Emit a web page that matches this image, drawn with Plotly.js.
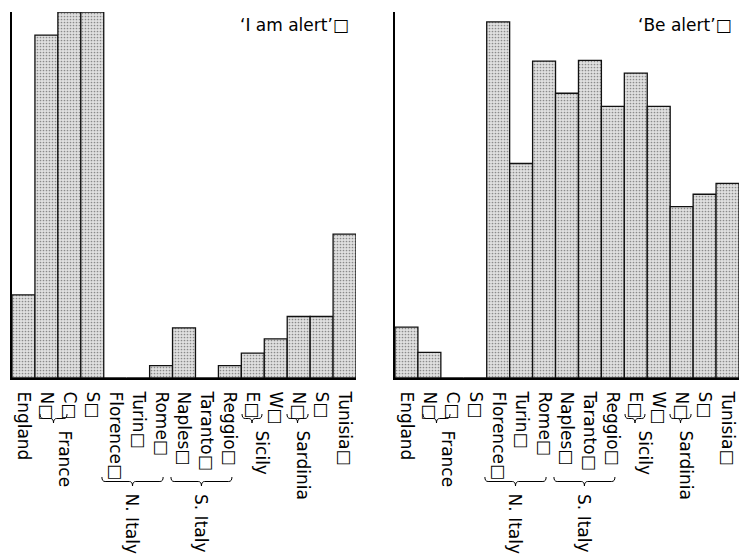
<!DOCTYPE html>
<html><head><meta charset="utf-8">
<script src="https://cdn.plot.ly/plotly-3.0.1.min.js"></script>
<style>html,body{margin:0;padding:0;background:#fff}</style>
</head><body><div id="chart" style="width:742px;height:560px"></div>
<script>
// ---- data ----
const categories = ['England', 'N\u25A1', 'C\u25A1', 'S\u25A1', 'Florence\u25A1', 'Turin\u25A1', 'Rome\u25A1',
  'Naples\u25A1', 'Taranto\u25A1', 'Reggio\u25A1', 'E\u25A1', 'W\u25A1', 'N\u25A1', 'S\u25A1', 'Tunisia\u25A1'];
const iAmAlert = [22.7, 93.7, 100, 100, 0, 0, 3.4, 13.7, 0, 3.4, 6.8, 10.7, 16.8, 16.8, 39.3];
const beAlert  = [13.9, 7.0, 0, 0, 97.3, 58.6, 86.6, 77.8, 86.8, 74.2, 83.3, 74.2, 46.8, 50.2, 53.2];
const panelTitles = ['\u2018I am alert\u2019\u25A1', '\u2018Be alert\u2019\u25A1'];
const groupNames = ['France', 'N. Italy', 'S. Italy', 'Sicily', 'Sardinia'];
const groupFirst = [1, 4, 7, 10, 12];
const groupLast  = [3, 6, 9, 11, 13];

// ---- styling / geometry of the group braces (category-index offsets) ----
const braceStartOff = [-0.28, -0.58, -0.57, -0.47, -0.51];
const braceEndOff   = [-1.1, 0.09, 0.09, -0.6, -0.59];
const textOff       = [-1.15, -1.25, -1.26, -0.58, -0.77];
const braceLevel    = [0, 1, 1, 0, 0];

const idx = categories.map((_, i) => i);
const PLOT_TOP = 12, PLOT_BOTTOM = 378;
const pxToPaper = Y => (PLOT_BOTTOM - Y) / (PLOT_BOTTOM - PLOT_TOP);
const levelY = [
  {top: 414, mid: 418.5, tip: 423, text: 429},
  {top: 477, mid: 481.5, tip: 486, text: 492}
];

const font = 'DejaVu Sans, Liberation Sans, Arial, sans-serif';
const barStyle = {
  color: '#d6d6d6', line: {color: '#111', width: 1.3},
  pattern: {shape: '.', bgcolor: '#e0e0e0', fgcolor: '#8a8a8a', size: 3, solidity: 0.25}
};

const traces = [
  {type: 'bar', x: idx, y: iAmAlert, width: 1, marker: barStyle, xaxis: 'x', yaxis: 'y', hoverinfo: 'x+y'},
  {type: 'bar', x: idx, y: beAlert, width: 1, marker: barStyle, xaxis: 'x2', yaxis: 'y2', hoverinfo: 'x+y'}
];

function xAxis(domain, anchor) {
  return {
    domain: domain, anchor: anchor, range: [-0.5, categories.length - 0.5],
    tickmode: 'array', tickvals: idx, ticktext: categories, tickangle: 90,
    ticks: '', showline: true, linecolor: '#000', linewidth: 2, mirror: false,
    showgrid: false, zeroline: false, fixedrange: true, ticklabelstandoff: 8,
    tickfont: {family: font, size: 17, color: '#000'}
  };
}
function yAxis(anchor) {
  return {
    anchor: anchor, range: [0, 100], showline: true, linecolor: '#000', linewidth: 2,
    showticklabels: false, ticks: '', showgrid: false, zeroline: false, fixedrange: true
  };
}

const shapes = [], annotations = [];
['x', 'x2'].forEach((xr, p) => {
  const yr = p === 0 ? 'y' : 'y2';
  annotations.push({
    text: panelTitles[p], xref: xr + ' domain', yref: yr + ' domain', x: 1, y: 1,
    xanchor: 'right', yanchor: 'top', xshift: -5, yshift: -1, showarrow: false,
    font: {family: font, size: 17, color: '#000'}
  });
  groupNames.forEach((g, k) => {
    const lv = levelY[braceLevel[k]];
    const xa = groupFirst[k] + braceStartOff[k];
    const xb = groupLast[k] + braceEndOff[k];
    const xm = (xa + xb) / 2, c = 0.14;
    const y0 = pxToPaper(lv.top), y1 = pxToPaper(lv.mid), y2 = pxToPaper(lv.tip);
    const path = `M ${xa},${y0} Q ${xa},${y1} ${xa + c},${y1} L ${xm - c},${y1} Q ${xm},${y1} ${xm},${y2} ` +
                 `Q ${xm},${y1} ${xm + c},${y1} L ${xb - c},${y1} Q ${xb},${y1} ${xb},${y0}`;
    shapes.push({type: 'path', xref: xr, yref: 'paper', path: path, line: {color: '#000', width: 1}});
    annotations.push({
      text: g, xref: xr, yref: 'paper', x: groupLast[k] + textOff[k], y: pxToPaper(lv.text),
      xanchor: 'center', yanchor: 'top', textangle: 90, showarrow: false,
      font: {family: font, size: 17, color: '#000'}
    });
  });
});

const layout = {
  width: 742, height: 560, margin: {l: 12, r: 3, t: PLOT_TOP, b: 560 - PLOT_BOTTOM},
  paper_bgcolor: '#fff', plot_bgcolor: '#fff', showlegend: false, bargap: 0,
  xaxis: xAxis([0, 0.4732], 'y'), yaxis: yAxis('x'),
  xaxis2: xAxis([0.5268, 1], 'y2'), yaxis2: yAxis('x2'),
  shapes: shapes, annotations: annotations
};

Plotly.newPlot('chart', traces, layout, {displayModeBar: false, staticPlot: true});
</script>
</body></html>
